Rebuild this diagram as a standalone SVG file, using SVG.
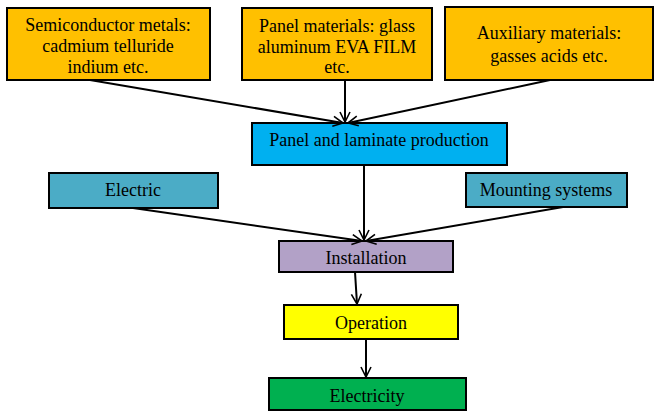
<svg xmlns="http://www.w3.org/2000/svg" width="657" height="412" viewBox="0 0 657 412">
<defs>
<marker id="arr" viewBox="0 0 12 12" refX="11" refY="6" markerWidth="12" markerHeight="12" markerUnits="userSpaceOnUse" orient="auto">
<polyline points="1,1 11,6 1,11" fill="none" stroke="#000" stroke-width="1.6"/>
</marker>
<style>
rect{stroke:#000;stroke-width:2}
text{font-family:"Liberation Serif","Times New Roman",serif;font-size:18px;fill:#000;text-anchor:middle}
.c line{stroke:#000;stroke-width:2;marker-end:url(#arr)}
</style>
</defs>
<rect width="657" height="412" fill="#fff" style="stroke:none"/>
<g id="semi"><rect x="7" y="8" width="203" height="72" fill="#FFC000"/><text x="108" y="31">Semiconductor metals:</text><text x="108" y="52">cadmium telluride</text><text x="108" y="73">indium etc.</text></g>
<g id="panelmat"><rect x="242" y="8" width="190" height="72" fill="#FFC000"/><text x="337" y="32">Panel materials: glass</text><text x="337" y="53">aluminum EVA FILM</text><text x="337" y="73">etc.</text></g>
<g id="aux"><rect x="445" y="7" width="208" height="73" fill="#FFC000"/><text x="549" y="39">Auxiliary materials:</text><text x="549" y="62">gasses acids etc.</text></g>
<g id="panel"><rect x="252" y="123" width="255" height="42" fill="#00B0F0"/><text x="379" y="146">Panel and laminate production</text></g>
<g id="electric"><rect x="49" y="173" width="169" height="35" fill="#4BACC6"/><text x="133" y="196">Electric</text></g>
<g id="mounting"><rect x="466" y="173" width="161" height="34" fill="#4BACC6"/><text x="546" y="196">Mounting systems</text></g>
<g id="install"><rect x="279" y="241" width="174" height="31" fill="#B2A1C7"/><text x="366" y="264">Installation</text></g>
<g id="operation"><rect x="284" y="305" width="174" height="34" fill="#FFFF00"/><text x="371" y="329">Operation</text></g>
<g id="electricity"><rect x="269" y="378" width="197" height="32" fill="#00B050"/><text x="367" y="402">Electricity</text></g>
<g class="c" id="connectors">
<line x1="90" y1="80" x2="343" y2="123"/>
<line x1="345" y1="80" x2="345" y2="122"/>
<line x1="550" y1="80" x2="348" y2="123"/>
<line x1="364" y1="165" x2="364" y2="240"/>
<line x1="133" y1="208" x2="362" y2="241"/>
<line x1="563" y1="207" x2="366" y2="241"/>
<line x1="355" y1="272" x2="357" y2="304"/>
<line x1="366" y1="339" x2="366" y2="377"/>
</g>
</svg>
